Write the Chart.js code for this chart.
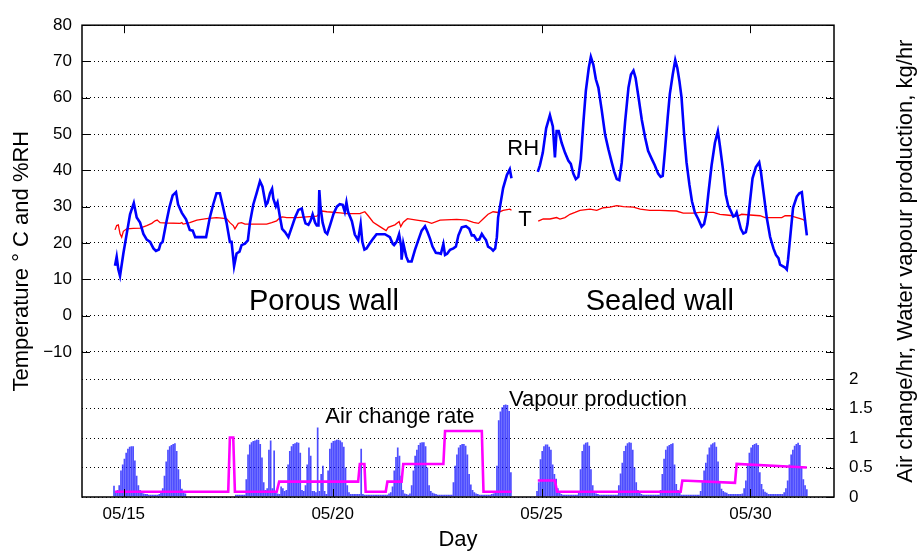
<!DOCTYPE html>
<html>
<head>
<meta charset="utf-8">
<script src="https://cdn.jsdelivr.net/npm/chart.js@4.4.1/dist/chart.umd.min.js"></script>
<style>
html,body{margin:0;padding:0;background:#fff;}
canvas{display:block;}
</style>
</head>
<body>
<canvas id="c" width="919" height="555"></canvas>
<script>
// ---- Data (x values are days since 05/14 00:00) ----
const xTickDays = [1, 6, 11, 16];
const xTickLabels = ['05/15', '05/20', '05/25', '05/30'];
const leftTicks = [-10, 0, 10, 20, 30, 40, 50, 60, 70, 80];
const rightTicks = [0, 0.5, 1, 1.5, 2];

// Relative humidity, %
const rhDay = [0.79,0.83,0.87,0.91,0.99,1.07,1.15,1.24,1.31,1.39,1.47,1.55,1.63,1.71,1.77,1.84,1.88,1.93,2.01,2.09,2.17,2.25,2.30,2.39,2.49,2.58,2.65,2.71,2.97,3.06,3.14,3.22,3.30,3.38,3.46,3.54,3.58,3.64,3.70,3.77,3.82,3.90,3.97,4.02,4.10,4.18,4.26,4.32,4.40,4.44,4.50,4.55,4.58,4.64,4.68,4.74,4.79,4.86,4.94,5.02,5.10,5.18,5.26,5.30,5.35,5.42,5.47,5.52,5.58,5.62,5.66,5.68,5.71,5.76,5.82,5.87,5.94,6.02,6.10,6.17,6.24,6.29,6.33,6.37,6.46,6.53,6.61,6.67,6.71,6.76,6.81,6.89,6.97,7.05,7.25,7.37,7.44,7.47,7.53,7.59,7.64,7.65,7.69,7.76,7.81,7.89,7.97,8.05,8.13,8.21,8.27,8.33,8.39,8.47,8.53,8.59,8.65,8.69,8.74,8.81,8.89,8.95,9.01,9.09,9.19,9.27,9.33,9.38,9.45,9.51,9.57,9.62,9.67,9.72,9.79,9.84,9.89,9.93,9.96,10.02,10.08,10.17,10.24,10.28,
  10.6,
  10.91,10.96,11.03,11.11,11.20,11.27,11.32,11.36,11.41,11.48,11.56,11.64,11.70,11.76,11.82,11.88,11.94,12.00,12.06,12.13,12.18,12.24,12.30,12.36,12.44,12.52,12.60,12.68,12.74,12.80,12.86,12.92,13.00,13.08,13.14,13.20,13.25,13.32,13.40,13.48,13.55,13.64,13.71,13.79,13.85,13.90,13.95,14.02,14.07,14.14,14.20,14.25,14.30,14.35,14.41,14.47,14.54,14.60,14.67,14.75,14.83,14.89,14.94,14.99,15.07,15.15,15.22,15.27,15.34,15.41,15.47,15.53,15.59,15.63,15.67,15.71,15.77,15.83,15.89,15.93,15.99,16.05,16.13,16.21,16.25,16.31,16.39,16.47,16.55,16.61,16.67,16.71,16.77,16.83,16.87,16.90,16.96,17.02,17.11,17.17,17.23,17.28,17.35];
const rhVal = [13.7,16.2,12.7,10.9,17.1,22.5,27.9,31.0,27.0,25.6,22.5,20.9,20.3,18.5,17.8,18.2,19.8,20.3,25.2,29.7,33.1,34.0,30.6,28.3,26.5,23.6,23.4,21.6,21.6,27.0,30.6,33.7,33.7,29.7,25.6,20.3,20.3,13.6,17.1,17.6,19.4,19.8,20.7,25.6,30.6,33.7,37.0,35.5,30.4,31.0,33.7,34.9,32.2,30.1,31.2,27.0,23.9,23.0,21.6,24.3,27.0,29.1,29.5,27.4,25.4,25.0,26.1,27.9,25.6,24.8,24.8,34.6,29.7,25.6,23.0,22.5,25.0,28.0,30.0,30.7,30.5,28.6,31.2,28.5,26.0,22.3,20.8,25.2,20.3,18.2,18.5,19.9,21.2,22.4,22.4,21.6,19.7,19.4,20.3,22.4,19.0,15.4,19.9,16.3,14.9,14.9,18.1,20.8,23.4,24.6,23.0,21.2,19.0,17.3,17.2,17.0,19.7,16.7,17.0,18.1,18.5,19.0,22.1,24.3,24.6,23.9,22.1,22.1,20.8,21.0,22.5,21.6,20.8,19.0,18.5,17.9,18.5,21.6,27.0,31.0,35.1,38.7,40.3,37.8,
  null,
  39.6,41.4,44.9,51.6,55.2,52.1,43.6,50.8,50.8,47.6,44.9,42.7,41.8,39.1,37.6,38.2,43.1,53.0,61.9,68.2,71.3,69.1,65.1,62.8,56.6,49.9,45.8,42.2,39.6,37.6,37.3,42.2,53.4,62.8,66.4,67.5,65.5,60.2,53.9,49.0,45.4,43.1,41.4,39.1,38.2,38.5,44.9,54.7,61.0,66.4,70.4,68.2,64.6,60.2,50.3,42.2,36.0,31.5,28.4,26.6,24.5,25.2,27.9,33.3,41.4,47.6,50.8,46.7,40.5,33.3,30.2,28.8,27.3,27.5,28.4,26.6,23.9,22.6,23.0,25.2,31.5,37.8,40.9,42.2,39.6,34.2,27.0,21.7,18.5,16.7,15.8,14.0,13.6,13.2,12.7,15.4,22.6,29.7,32.8,33.7,34.0,28.8,22.1];

// Temperature, deg C
const tDay = [0.79,0.83,0.87,0.91,0.95,0.99,1.07,1.23,1.39,1.55,1.67,1.75,1.80,1.87,2.03,2.35,2.39,2.42,2.58,2.75,2.98,3.22,3.46,3.54,3.62,3.66,3.74,3.82,3.90,4.10,4.42,4.54,4.66,4.74,4.80,4.90,5.14,5.38,5.62,5.74,5.86,6.18,6.34,6.58,6.65,6.77,6.85,6.97,7.13,7.28,7.33,7.49,7.59,7.63,7.69,7.79,8.01,8.25,8.37,8.57,8.97,9.21,9.37,9.49,9.60,9.72,9.84,9.96,10.08,10.24,10.28,
  10.6,
  10.92,11.04,11.20,11.36,11.44,11.56,11.68,11.80,11.92,12.16,12.32,12.48,12.64,12.80,12.96,13.20,13.36,13.59,13.83,14.23,14.39,14.63,14.79,15.11,15.27,15.43,15.59,15.71,15.79,15.99,16.23,16.35,16.75,16.83,16.95,17.11,17.23,17.33];
const tVal = [23.6,24.8,25.0,22.5,21.6,23.2,23.9,24.0,24.1,24.8,25.4,26.1,26.3,25.6,25.5,25.4,25.6,25.2,25.6,26.3,26.7,27.0,26.7,25.6,24.8,23.9,25.4,25.6,25.2,25.2,25.2,25.6,26.1,27.0,27.2,27.0,27.0,27.2,27.4,28.8,28.6,28.3,28.1,28.1,28.1,28.6,27.5,25.7,24.5,23.4,24.3,25.0,25.9,24.5,25.7,26.7,26.3,25.9,25.4,26.3,26.5,26.3,25.7,25.4,26.6,27.9,28.6,28.4,29.0,29.3,29.0,
  null,
  26.0,26.6,26.6,27.0,26.6,27.0,27.9,28.4,29.0,29.3,29.0,29.7,29.9,30.3,30.0,29.9,29.3,29.0,29.0,28.8,28.2,28.2,28.4,28.4,27.9,27.7,27.5,27.5,27.9,27.7,27.5,27.0,27.0,27.5,27.5,27.0,26.6,26.0];

// Air change rate, 1/hr
const acDay = [0.79,3.50,3.54,3.62,3.66,4.66,4.72,6.61,6.65,6.76,6.79,7.27,7.31,7.65,7.69,8.65,8.69,9.57,9.61,10.28,10.6,10.91,11.32,11.37,14.33,14.37,15.63,15.67,17.35];
const acVal = [0.09,0.09,1.01,1.01,0.09,0.09,0.26,0.26,0.56,0.56,0.09,0.09,0.26,0.26,0.56,0.56,1.12,1.12,0.09,0.09,null,0.28,0.28,0.09,0.09,0.28,0.24,0.56,0.50];

// Water vapour production, kg/hr (hourly, first hour at vapStartDay)
const vapStartDay = 0.766;
const vapour = [
0.19,0.10,0.12,0.20,0.45,0.55,0.65,0.75,0.82,0.85,0.86,0.86,0.62,0.36,0.20,0.12,0.07,0.06,0.05,0.05,0.04,0.04,0.04,0.04,
0.04,0.04,0.05,0.08,0.15,0.36,0.60,0.80,0.86,0.88,0.90,0.91,0.78,0.47,0.30,0.14,0.08,0.06,null,null,null,null,null,null,
null,null,null,null,null,null,null,null,null,null,null,null,null,null,null,null,null,null,null,null,null,null,0.04,0.04,
0.04,0.04,0.04,0.04,0.30,0.72,0.89,0.93,0.95,0.96,0.97,0.97,0.90,0.67,0.25,0.12,0.15,0.80,0.96,0.15,0.79,0.10,0.06,0.05,
0.18,0.15,0.10,0.12,0.55,0.78,0.86,0.90,0.91,0.93,0.92,0.75,0.12,0.10,0.20,0.55,0.84,0.70,0.10,0.10,0.08,1.18,0.10,0.39,
0.53,0.10,0.05,0.45,0.82,0.92,0.95,0.96,0.97,0.97,0.96,0.93,0.85,0.50,0.20,0.08,0.05,0.05,0.05,0.05,0.05,0.05,0.82,0.05,
0.04,0.04,0.04,0.04,0.04,0.04,0.04,0.04,0.04,0.04,0.04,0.04,0.04,0.04,0.06,0.08,0.18,0.45,0.68,0.84,0.70,0.36,0.12,0.06,
0.05,0.04,0.06,0.20,0.45,0.70,0.80,0.88,0.92,0.93,0.93,0.86,0.50,0.20,0.10,0.07,0.06,0.05,0.04,0.04,0.04,0.04,0.04,0.04,
0.04,0.04,0.04,0.25,0.53,0.72,0.84,0.88,0.90,0.90,0.87,0.72,0.39,0.21,0.12,0.08,0.06,0.05,0.04,0.04,0.04,0.04,0.04,0.04,
0.04,0.05,0.06,0.10,0.53,1.30,1.45,1.52,1.56,1.57,1.56,1.46,0.42,null,null,null,null,null,null,null,null,null,null,null,
null,null,null,0.10,0.25,0.64,0.78,0.86,0.89,0.89,0.85,0.80,0.55,0.39,0.31,0.15,0.08,0.05,0.04,0.04,0.04,0.04,0.04,0.04,
0.04,0.04,0.04,0.10,0.47,0.78,0.89,0.92,0.93,0.87,0.47,0.20,0.10,0.06,0.05,0.04,0.04,0.04,0.04,0.04,0.04,0.04,0.04,0.04,
0.04,0.04,0.20,0.40,0.58,0.78,0.87,0.91,0.93,0.92,0.80,0.50,0.25,0.12,0.07,0.05,0.04,0.04,0.04,0.04,0.04,0.04,0.04,0.04,
0.04,0.04,0.12,0.39,0.65,0.80,0.86,0.88,0.90,0.91,0.55,0.22,0.12,0.07,0.04,0.04,0.04,0.04,0.04,0.04,0.04,0.04,0.04,0.04,
0.04,0.10,0.25,0.45,0.58,0.72,0.84,0.89,0.91,0.93,0.85,0.60,0.27,0.14,0.10,0.08,0.07,0.05,0.05,0.05,0.05,0.05,0.05,0.05,
0.05,0.06,0.15,0.28,0.55,0.75,0.84,0.88,0.90,0.91,0.88,0.42,0.22,0.13,0.09,0.07,0.05,0.05,0.05,0.05,0.05,0.05,0.05,0.05,
0.05,0.08,0.15,0.28,0.55,0.72,0.80,0.87,0.90,0.92,0.88,0.50,0.30,0.20,0.13];

// ---- Build datasets ----
const pts = (xs, ys) => xs.map((d, i) => ({ x: d, y: ys[i] }));
const vapData = vapour.map((v, i) => ({ x: vapStartDay + i / 24, y: v }));

const FONT = '"Liberation Sans", Arial, Helvetica, sans-serif';

const texts = [
  { t: 'RH', x: 10.56, y: 45.9, axis: 'y', size: 22 },
  { t: 'T', x: 10.60, y: 26.3, axis: 'y', size: 22 },
  { t: 'Porous wall', x: 5.79, y: 3.7, axis: 'y', size: 29 },
  { t: 'Sealed wall', x: 13.83, y: 3.7, axis: 'y', size: 29 },
  { t: 'Air change rate', x: 7.61, y: 1.36, axis: 'y2', size: 22 },
  { t: 'Vapour production', x: 12.35, y: 1.65, axis: 'y2', size: 22 }
];

const deco = {
  id: 'deco',
  afterDraw(chart) {
    const { ctx, chartArea: a, scales } = chart;
    const x = scales.x, y = scales.y, y2 = scales.y2;
    ctx.save();
    // frame
    ctx.strokeStyle = '#000';
    ctx.lineWidth = 1.5;
    ctx.strokeRect(a.left, a.top, a.right - a.left, a.bottom - a.top);
    // inward ticks
    ctx.lineWidth = 1;
    ctx.beginPath();
    leftTicks.forEach(v => {
      const p = Math.round(y.getPixelForValue(v)) + 0.5;
      ctx.moveTo(a.left, p); ctx.lineTo(a.left + 8, p);
      ctx.moveTo(a.right, p); ctx.lineTo(a.right - 8, p);
    });
    rightTicks.forEach(v => {
      const p = Math.round(y2.getPixelForValue(v)) + 0.5;
      ctx.moveTo(a.right, p); ctx.lineTo(a.right - 8, p);
    });
    xTickDays.forEach(v => {
      const p = Math.round(x.getPixelForValue(v)) + 0.5;
      ctx.moveTo(p, a.bottom); ctx.lineTo(p, a.bottom - 8);
      ctx.moveTo(p, a.top); ctx.lineTo(p, a.top + 8);
    });
    ctx.stroke();
    // annotations
    ctx.fillStyle = '#000';
    ctx.textAlign = 'center';
    ctx.textBaseline = 'middle';
    texts.forEach(o => {
      ctx.font = o.size + 'px ' + FONT;
      ctx.fillText(o.t, x.getPixelForValue(o.x), scales[o.axis].getPixelForValue(o.y));
    });
    // axis titles
    const cy = (a.top + a.bottom) / 2;
    ctx.font = '22px ' + FONT;
    ctx.fillText('Day', (a.left + a.right) / 2, 540);
    ctx.save();
    ctx.translate(22, cy);
    ctx.rotate(-Math.PI / 2);
    ctx.fillText('Temperature ° C and %RH', 0, 0);
    ctx.restore();
    ctx.save();
    ctx.translate(906, cy);
    ctx.rotate(-Math.PI / 2);
    ctx.fillText('Air change/hr, Water vapour production, kg/hr', 0, 0);
    ctx.restore();
    ctx.restore();
  }
};

const tickFont = { family: FONT, size: 17 };

new Chart(document.getElementById('c'), {
  data: {
    datasets: [
      { type: 'line', label: 'RH', data: pts(rhDay, rhVal), yAxisID: 'y', borderColor: '#0000ff', borderWidth: 2.6, pointRadius: 0, tension: 0, spanGaps: false, order: 1 },
      { type: 'line', label: 'T', data: pts(tDay, tVal), yAxisID: 'y', borderColor: '#ff0000', borderWidth: 1.3, pointRadius: 0, tension: 0, spanGaps: false, order: 2 },
      { type: 'line', label: 'Air change rate', data: pts(acDay, acVal), yAxisID: 'y2', borderColor: '#ff00ff', borderWidth: 2.6, pointRadius: 0, tension: 0, spanGaps: false, order: 0 },
      { type: 'bar', label: 'Vapour production', data: vapData, yAxisID: 'y2', backgroundColor: 'rgba(10,10,255,0.72)', borderWidth: 0, categoryPercentage: 1, barPercentage: 0.97, order: 5 }
    ]
  },
  options: {
    responsive: false,
    animation: false,
    events: [],
    layout: { padding: { top: 13, left: 0, right: 0, bottom: 0 } },
    plugins: { legend: { display: false }, tooltip: { enabled: false } },
    scales: {
      x: {
        type: 'linear', min: 0, max: 18, position: 'bottom', offset: false,
        afterBuildTicks: s => { s.ticks = xTickDays.map(v => ({ value: v })); },
        afterFit: s => { s.height = 58; },
        ticks: { autoSkip: false, maxRotation: 0, color: '#000', font: tickFont, padding: 7,
          callback: (v) => xTickLabels[xTickDays.indexOf(v)] },
        grid: { display: false, drawTicks: false, offset: false },
        border: { display: false }
      },
      y: {
        type: 'linear', min: -50, max: 80, position: 'left',
        afterBuildTicks: s => { s.ticks = leftTicks.map(v => ({ value: v })); },
        afterFit: s => { s.width = 82; },
        ticks: { autoSkip: false, color: '#000', font: tickFont, padding: 10,
          callback: v => (v < 0 ? '\u2212' + Math.abs(v) : String(v)) },
        grid: { color: '#000', lineWidth: 1, drawTicks: false, borderDash: [1, 3] },
        border: { display: false, dash: [1, 3] }
      },
      y2: {
        type: 'linear', min: 0, max: 8, position: 'right',
        afterBuildTicks: s => { s.ticks = rightTicks.map(v => ({ value: v })); },
        afterFit: s => { s.width = 85; },
        ticks: { autoSkip: false, color: '#000', font: tickFont, padding: 15,
          callback: v => String(v) },
        grid: { color: '#000', lineWidth: 1, drawTicks: false, borderDash: [1, 3] },
        border: { display: false, dash: [1, 3] }
      }
    }
  },
  plugins: [deco]
});
</script>
</body>
</html>
